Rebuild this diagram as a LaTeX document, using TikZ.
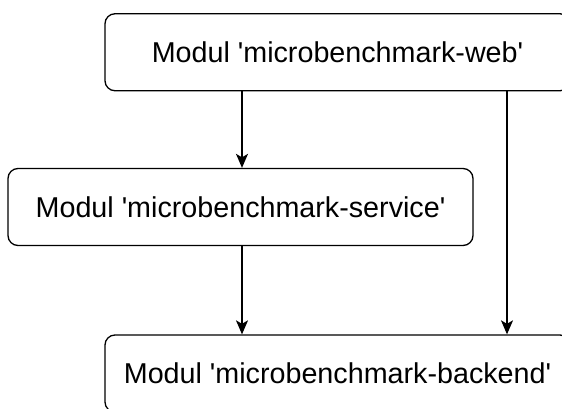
\documentclass[tikz,border=0pt]{standalone}
\usepackage{fontspec}
\setmainfont{Liberation Sans}
\usetikzlibrary{arrows.meta}
\newcommand{\sq}{\textquotesingle}
\begin{document}
\begin{tikzpicture}[x=1pt,y=1pt,
  modbox/.style={draw=black, line width=1.3pt, rounded corners=10pt, minimum width=465pt, minimum height=77pt, inner sep=0pt, font=\fontsize{28.7}{33}\selectfont, fill=white},
  conn/.style={draw=black, line width=1.3pt, -{Stealth[length=14pt,width=12pt,inset=3.5pt]}}]
\useasboundingbox (0,0) rectangle (562,408);
\clip (0,0) rectangle (562,408);
\node[modbox] (web) at (337.5,355.75) {Modul \sq microbenchmark-web\sq};
\node[modbox] (service) at (240.5,201) {Modul \sq microbenchmark-service\sq};
\node[modbox] (backend) at (337.5,34.5) {Modul \sq microbenchmark-backend\sq};
\draw[conn] (web.south -| 242,0) -- (service.north -| 242,0);
\draw[conn] (service.south -| 242,0) -- (backend.north -| 242,0);
\draw[conn] (web.south -| 507,0) -- (backend.north -| 507,0);
\end{tikzpicture}
\end{document}
